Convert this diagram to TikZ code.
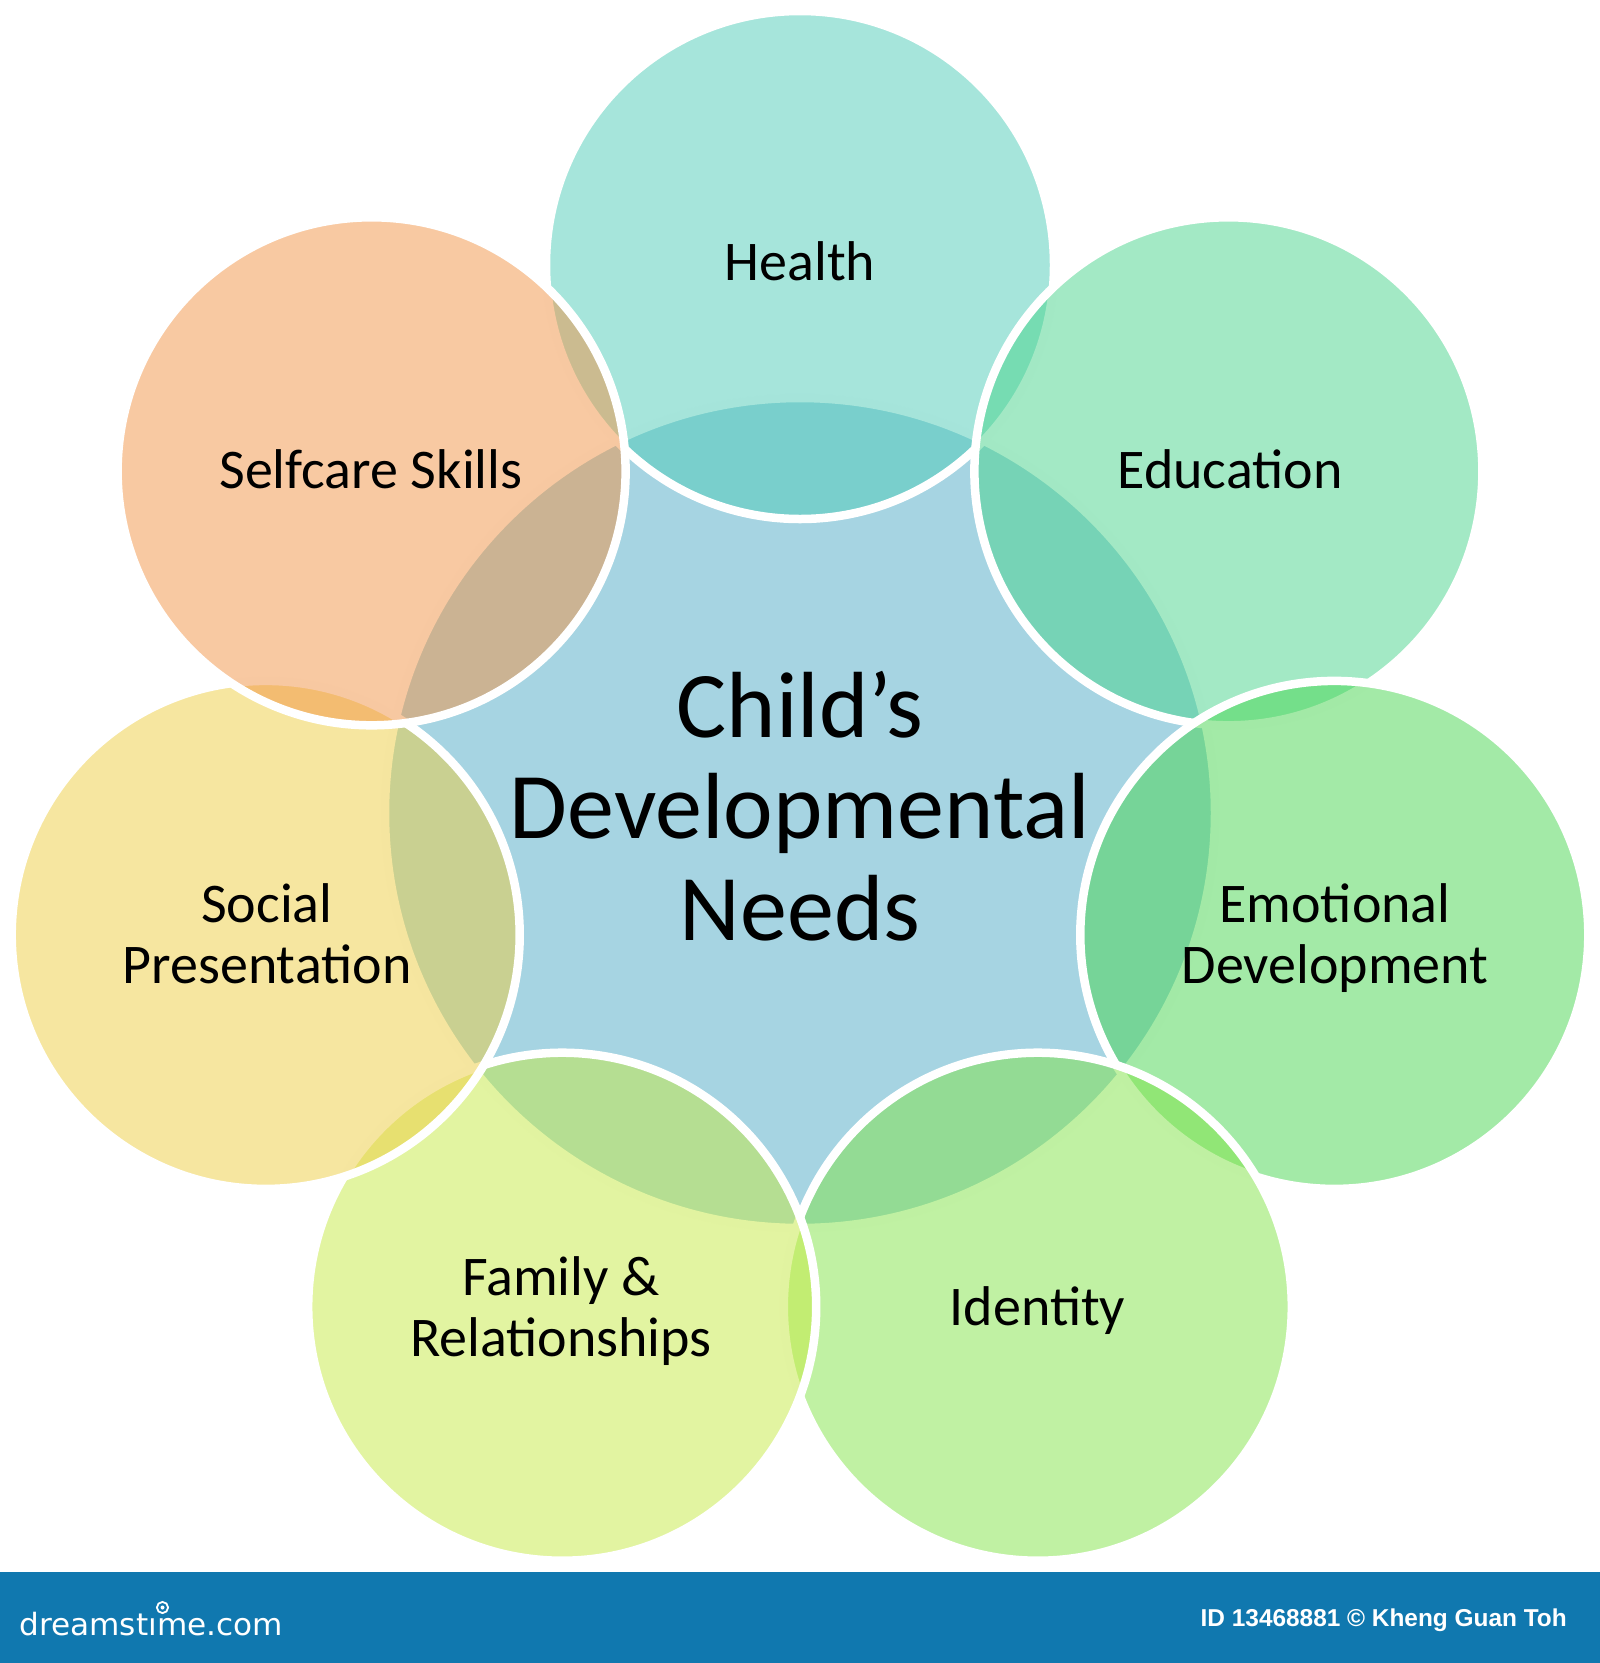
\documentclass[tikz,border=0pt]{standalone}
\usepackage{fontspec}
\usepackage{graphicx}
\setmainfont{Carlito}
\newfontfamily\bannerfont{Liberation Sans}
\newfontfamily\logofont{DejaVu Sans}
\definecolor{cCenter}{RGB}{77,169,197}
\definecolor{cHealth}{RGB}{77,203,183}
\definecolor{cEducation}{RGB}{71,211,139}
\definecolor{cEmotional}{RGB}{71,213,79}
\definecolor{cIdentity}{RGB}{129,227,71}
\definecolor{cFamily}{RGB}{197,233,67}
\definecolor{cSocial}{RGB}{237,205,65}
\definecolor{cSelfcare}{RGB}{241,147,69}
\definecolor{cBanner}{RGB}{16,120,175}
\newcommand\twolines[2]{\begin{tabular}[t]{@{}c@{}}#1\\#2\end{tabular}}
\newcommand\threelines[3]{\begin{tabular}[t]{@{}c@{}}#1\\#2\\#3\end{tabular}}
\begin{document}
\begin{tikzpicture}[x=1pt,y=-1pt,
  bubble/.style={circle, draw=white, line width=8.5pt, fill opacity=0.5, draw opacity=1, inner sep=0pt, outer sep=0pt},
  outer/.style={bubble, minimum size=508pt},
  lbl/.style={font=\fontsize{56}{61}\selectfont, inner sep=0pt, anchor=base, text=black},
  biglbl/.style={font=\fontsize{94}{101.5}\selectfont, inner sep=0pt, anchor=base, text=black}]
\useasboundingbox (0,0) rectangle (1600,1663);
% circles, drawn in order
\node[bubble, fill=cCenter, minimum size=830pt] (center) at (800,813) {};
\node[outer, fill=cHealth]    (health)    at (800,265) {};
\node[outer, fill=cEducation] (education) at (1228.4,471.3) {};
\node[outer, fill=cEmotional] (emotional) at (1334.3,934.9) {};
\node[outer, fill=cIdentity]  (identity)  at (1037.8,1306.7) {};
\node[outer, fill=cFamily]    (family)    at (562.2,1306.7) {};
\node[outer, fill=cSocial]    (social)    at (265.7,934.9) {};
\node[outer, fill=cSelfcare]  (selfcare)  at (371.6,471.3) {};
% labels
\node[lbl] (tHealth) at (800,280) {Health};
\node[lbl] (tEducation) at (1230,488) {Education};
\node[lbl] (tSelfcare) at (371,488) {Selfcare Skills};
\node[lbl] (tEmotional) at (1335,922) {\twolines{Emotional}{Development}};
\node[lbl] (tSocial) at (267,922) {\twolines{Social}{Presentation}};
\node[lbl] (tFamily) at (561,1295.5) {\twolines{Family \&}{Relationships}};
\node[lbl] (tIdentity) at (1037.5,1325.5) {Identity};
\node[biglbl] (tCenter) at (800,737) {\threelines{Child’s}{Developmental}{Needs}};
% banner
\fill[cBanner] (0,1572) rectangle (1600,1663);
\node[inner sep=0pt, anchor=base west, text=white] (logo) at (19.3,1635)
  {\resizebox{263.4pt}{23.3pt}{\logofont dreamstıme.com}};
\draw[white, line width=1.8pt] (162.5,1607.5) circle[radius=5.6];
\fill[white] (162.5,1607.5) circle[radius=2];
\node[inner sep=0pt, anchor=base west, text=white, font=\bannerfont\bfseries\fontsize{24.4}{28}\selectfont] (credit) at (1200.5,1626.7)
  {ID 13468881 © Kheng Guan Toh};
\end{tikzpicture}
\end{document}
